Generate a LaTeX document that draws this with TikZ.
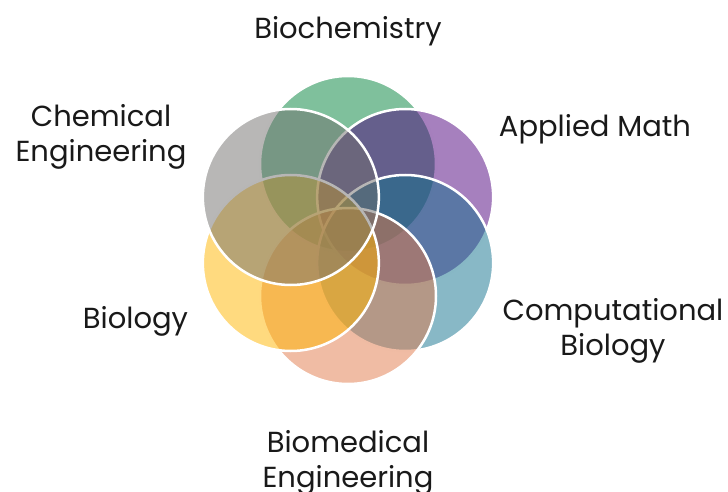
\documentclass[tikz,border=0pt]{standalone}
\usepackage{fontspec}
\setmainfont{Poppins}
\usetikzlibrary{positioning, calc}

\definecolor{biochem}{RGB}{0,129,57}
\definecolor{appmath}{RGB}{77,1,125}
\definecolor{compbio}{RGB}{17,113,141}
\definecolor{biomed}{RGB}{225,121,73}
\definecolor{biology}{RGB}{255,181,0}
\definecolor{chemeng}{RGB}{113,111,109}

\begin{document}
\begin{tikzpicture}[
  x=1pt, y=1pt,
  ring/.style={circle, draw=white, line width=2.5pt, fill opacity=0.5, minimum size=176pt, inner sep=0pt},
  lbl/.style={font=\fontsize{29}{35}\selectfont, align=center, inner sep=0pt, text=black!90}
]
\useasboundingbox (0,0) rectangle (728,491);

\coordinate (mid) at (348,261);

% circles, bottom one first
\node[ring, fill=biochem] (c1) at ($(mid)+(90:66)$) {};
\node[ring, fill=appmath] (c2) at ($(mid)+(30:66)$) {};
\node[ring, fill=compbio] (c3) at ($(mid)+(-30:66)$) {};
\node[ring, fill=biomed]  (c4) at ($(mid)+(-90:66)$) {};
\node[ring, fill=biology] (c5) at ($(mid)+(210:66)$) {};
\node[ring, fill=chemeng] (c6) at ($(mid)+(150:66)$) {};

% labels
\node[lbl, anchor=base] (t1) at (348,452) {Biochemistry};
\node[lbl, anchor=base] (t2) at (595,354) {Applied Math};
\node[lbl] (t3) at (613,160) {Computational\\Biology};
\node[lbl] (t4) at (348,28) {Biomedical\\Engineering};
\node[lbl, anchor=base] (t5) at (135.5,163) {Biology};
\node[lbl] (t6) at (101,354.5) {Chemical\\Engineering};

\end{tikzpicture}
\end{document}
